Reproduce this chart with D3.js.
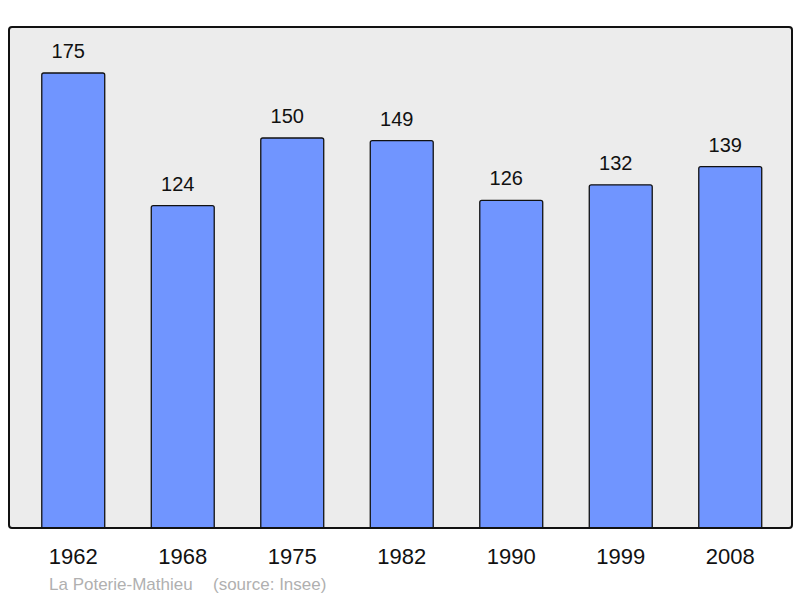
<!DOCTYPE html>
<html><head><meta charset="utf-8">
<script src="https://cdn.jsdelivr.net/npm/d3@7"></script>
<style>body{margin:0;background:#fff}svg{display:block}</style>
</head><body>
<svg id="c" width="800" height="598"></svg>
<script>
const years = ["1962","1968","1975","1982","1990","1999","2008"];
const population = [175,124,150,149,126,132,139];
const commune = "La Poterie-Mathieu";
const source = "(source: Insee)";

const svg = d3.select("#c");
const font = "'Liberation Sans', Arial, sans-serif";
const frame = {x0: 9, y0: 27, x1: 792, y1: 528};

svg.append("rect").attr("x", frame.x0).attr("y", frame.y0)
  .attr("width", frame.x1 - frame.x0).attr("height", frame.y1 - frame.y0)
  .attr("rx", 3).attr("fill", "#ececec");

const x = d3.scaleBand().domain(years).range([18.5, 785]).paddingInner(0.425).paddingOuter(0.2125);
const y = d3.scaleLinear().domain([0, 175]).range([frame.y1, 73]);

svg.append("clipPath").attr("id","clip").append("rect")
  .attr("x", frame.x0).attr("y", frame.y0).attr("width", frame.x1-frame.x0).attr("height", frame.y1-frame.y0);

const g = svg.append("g").attr("clip-path","url(#clip)");
g.selectAll("rect.bar").data(years).join("rect").attr("class","bar")
  .attr("x", d => x(d)).attr("width", x.bandwidth())
  .attr("y", (d,i) => y(population[i])).attr("height", (d,i) => frame.y1 - y(population[i]) + 5)
  .attr("rx", 2).attr("fill", "#7095ff").attr("stroke", "#111").attr("stroke-width", 1.3);

svg.append("rect").attr("x", frame.x0).attr("y", frame.y0)
  .attr("width", frame.x1 - frame.x0).attr("height", frame.y1 - frame.y0)
  .attr("rx", 3).attr("fill", "none").attr("stroke", "#111").attr("stroke-width", 2);

svg.selectAll("text.val").data(years).join("text").attr("class","val")
  .attr("x", d => x(d) + x.bandwidth()/2 - 5).attr("y", (d,i) => y(population[i]) - 15)
  .attr("text-anchor","middle").attr("font-family", font).attr("font-size", 20).attr("fill","#111")
  .text((d,i) => population[i]);

svg.selectAll("text.yr").data(years).join("text").attr("class","yr")
  .attr("x", d => x(d) + x.bandwidth()/2).attr("y", 564)
  .attr("text-anchor","middle").attr("font-family", font).attr("font-size", 22).attr("fill","#111")
  .text(d => d);

svg.append("text").attr("x", 49).attr("y", 590).attr("font-family", font).attr("font-size", 17)
  .attr("fill", "#b0b0b0").text(commune);
svg.append("text").attr("x", 213).attr("y", 590).attr("font-family", font).attr("font-size", 17)
  .attr("fill", "#b0b0b0").text(source);
</script>
</body></html>
